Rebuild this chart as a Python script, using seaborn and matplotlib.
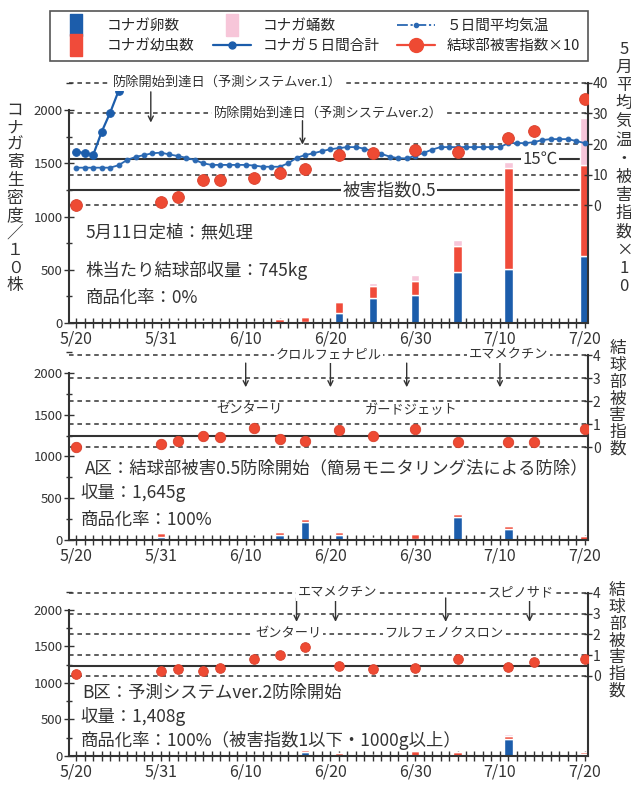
import seaborn as sns
import matplotlib.pyplot as plt
from matplotlib.lines import Line2D
from matplotlib.ticker import MultipleLocator
from matplotlib.transforms import blended_transform_factory

sns.set_theme(style='white')
plt.rcParams['font.family'] = ['Noto Sans CJK JP', 'DejaVu Sans']
plt.rcParams['axes.unicode_minus'] = False

# x axis: day index from 5/20, labels every 10 points
date_pos = [0, 10, 20, 30, 40, 50, 60]
date_labels = ['5/20', '5/31', '6/10', '6/20', '6/30', '7/10', '7/20']
survey_pos = [0, 10, 12, 15, 17, 21, 24, 27, 31, 35, 40, 45, 51, 54, 60]

# top panel: untreated
top_eggs = [0, 0, 0, 0, 0, 0, 0, 5, 90, 230, 265, 475, 505, 0, 630]
top_larvae = [0, 20, 20, 20, 10, 10, 40, 55, 110, 120, 125, 250, 950, 0, 855]
top_pupae = [0, 0, 0, 0, 0, 0, 0, 0, 0, 30, 60, 55, 55, 0, 440]
top_damage10 = [0.1, 1.1, 2.7, 8.3, 8.3, 8.9, 10.6, 11.9, 16.4, 17.1, 18.0, 17.4, 22.0, 24.2, 34.7]
temp_days = list(range(61))
temp_5day = [12.3, 12.3, 12.3, 12.3, 12.3, 13.1, 14.8, 15.8, 16.4, 17.0,
             17.2, 16.6, 16.1, 15.5, 14.8, 13.7, 13.2, 13.2, 13.2, 13.2,
             13.2, 13.0, 12.6, 12.6, 12.6, 13.7, 15.5, 16.4, 17.0, 17.7,
             18.3, 18.7, 19.0, 19.0, 18.5, 17.6, 16.8, 15.9, 15.4, 15.3,
             16.2, 17.1, 18.2, 19.0, 19.0, 19.0, 19.0, 19.0, 19.0, 19.0,
             19.0, 20.3, 20.3, 20.3, 20.6, 21.3, 21.6, 21.6, 21.6, 21.0, 20.3]
total_days = [0, 1, 2, 3, 4, 5]
total_5day = [1610, 1595, 1578, 1795, 1975, 2180]

# middle panel: A区
a_eggs = [0, 40, 0, 0, 0, 0, 60, 220, 60, 0, 10, 270, 130, 0, 0]
a_larvae = [0, 40, 5, 10, 5, 20, 40, 30, 40, 20, 60, 40, 40, 0, 50]
a_pupae = [0, 20, 0, 0, 0, 0, 10, 10, 10, 0, 0, 10, 10, 0, 0]
a_damage = [0.0, 0.13, 0.26, 0.49, 0.43, 0.83, 0.35, 0.26, 0.74, 0.49, 0.78, 0.23, 0.23, 0.23, 0.78]

# bottom panel: B区
b_eggs = [0, 0, 0, 0, 0, 0, 0, 60, 0, 0, 0, 0, 230, 0, 30]
b_larvae = [0, 0, 15, 0, 0, 15, 15, 20, 45, 15, 70, 60, 50, 0, 20]
b_pupae = [0, 0, 0, 0, 0, 0, 0, 0, 0, 0, 0, 0, 20, 0, 10]
b_damage = [0.1, 0.24, 0.32, 0.24, 0.4, 0.8, 1.0, 1.38, 0.48, 0.32, 0.4, 0.8, 0.42, 0.69, 0.8]

BLUE = '#1c5dab'
RED = '#f04b3a'
PINK = '#f7c6d9'
DOT = '#ee4a33'
INK = '#333333'

fig = plt.figure(figsize=(6.31, 7.87), dpi=100)


def panel(rect, eggs, larvae, pupae, left_top, right_lim, right_top, right_ticks,
          dashed, solid):
    ax = fig.add_axes(rect)
    ax2 = ax.twinx()
    # stacked bars
    b1 = [e + l for e, l in zip(eggs, larvae)]
    ax.bar(survey_pos, eggs, width=1.0, color=BLUE, zorder=2)
    ax.bar(survey_pos, larvae, bottom=eggs, width=1.0, color=RED, zorder=2)
    ax.bar(survey_pos, pupae, bottom=b1, width=1.0, color=PINK, zorder=2)
    ax.set_xlim(-0.85, 60.4)
    ax.set_ylim(0, left_top)
    ax2.set_ylim(*right_lim)
    # reference lines in right-axis units, drawn under the bars
    tr = blended_transform_factory(ax.transAxes, ax2.transData)
    for v in dashed:
        ax.plot([0, 1], [v, v], transform=tr, color=INK, lw=1.1,
                ls=(0, (3, 2.5)), zorder=1)
    for v in solid:
        ax.plot([0, 1], [v, v], transform=tr, color=INK, lw=1.5, zorder=1)
    # axes styling
    ax.set_xticks(date_pos, date_labels)
    ax.xaxis.set_minor_locator(MultipleLocator(1))
    ax.yaxis.set_minor_locator(MultipleLocator(250))
    ax.set_yticks([0, 500, 1000, 1500, 2000])
    ax.tick_params(axis='x', which='both', direction='inout', length=7, width=1,
                   colors=INK, labelsize=11.5, pad=2, bottom=True)
    ax.tick_params(axis='y', which='major', direction='inout', length=7, width=1,
                   colors=INK, labelsize=9.5, pad=1, left=True)
    ax.tick_params(axis='y', which='minor', direction='inout', length=4, width=1,
                   colors=INK, left=True)
    ax2.set_yticks(right_ticks)
    ax2.tick_params(axis='y', direction='inout', length=6, width=1, colors=INK,
                    labelsize=10, pad=0.5, right=True)
    for s in ['top', 'right']:
        ax.spines[s].set_visible(False)
    for s in ['top', 'left', 'bottom']:
        ax2.spines[s].set_visible(False)
    ax.spines['left'].set_bounds(0, 2000)
    ax2.spines['right'].set_bounds(right_lim[0], right_top)
    for sp in [ax.spines['left'], ax.spines['bottom'], ax2.spines['right']]:
        sp.set_color(INK)
        sp.set_linewidth(1.5)
    ax.grid(False)
    ax2.grid(False)
    return ax, ax2


def dots(ax2, values, msize):
    sns.scatterplot(x=survey_pos, y=values, ax=ax2, color=DOT, s=msize ** 2,
                    edgecolor='#d8402c', linewidth=0.6, zorder=5, legend=False)


def label(ax2, x, y, s, size=9.5, ha='center'):
    ax2.text(x, y, s, ha=ha, va='center', fontsize=size, color=INK, zorder=6,
             bbox=dict(facecolor='white', edgecolor='none', pad=1.0))


def arrow(ax2, x, y0, y1):
    ax2.annotate('', xy=(x, y1), xytext=(x, y0),
                 arrowprops=dict(arrowstyle='->', color=INK, lw=1.0,
                                 mutation_scale=9, shrinkA=0, shrinkB=0),
                 zorder=6)


# ---- top panel
ax, ax2 = panel([0.1094, 0.5896, 0.8225, 0.3087], top_eggs, top_larvae, top_pupae,
                2282, (-38.3, 40.85), 40, [0, 10, 20, 30, 40],
                [0, 10, 20, 30, 40], [5, 15])
sns.lineplot(x=total_days, y=total_5day, ax=ax, color=BLUE, lw=1.6, marker='o',
             markersize=5.5, markeredgecolor=BLUE, zorder=4)
sns.lineplot(x=temp_days, y=temp_5day, ax=ax2, color='#2a68b2', lw=1.3,
             marker='o', markersize=3.4, markeredgecolor='#2a68b2', zorder=4)
dots(ax2, top_damage10, 8.5)
ax.set_xlabel('')
ax.set_ylabel('')
ax2.set_xlabel('')
ax2.set_ylabel('')
label(ax2, 4.3, 40, '防除開始到達日（予測システムver.1）', ha='left')
label(ax2, 16.2, 30, '防除開始到達日（予測システムver.2）', ha='left')
arrow(ax2, 8.8, 37.0, 27.0)
arrow(ax2, 26.7, 27.6, 19.8)
label(ax2, 54.7, 15, '15℃', size=12)
label(ax2, 36.9, 5, '被害指数0.5', size=12.5)
ax.text(1.1, 853, '5月11日定植：無処理', fontsize=12.5, va='center', color=INK)
ax.text(1.1, 496, '株当たり結球部収量：745kg', fontsize=12.5, va='center', color=INK)
ax.text(1.1, 233, '商品化率：0%', fontsize=12.5, va='center', color=INK)

# ---- middle panel
ax, ax2 = panel([0.1094, 0.3139, 0.8225, 0.2414], a_eggs, a_larvae, a_pupae,
                2275, (-4.04, 4.22), 4, [0, 1, 2, 3, 4],
                [0, 1, 2, 3, 4], [0.5])
dots(ax2, a_damage, 7.5)
for x in [20, 30, 39, 50]:
    arrow(ax2, x, 3.65, 2.6)
label(ax2, 29.8, 4, 'クロルフェナピル')
label(ax2, 51.0, 4, 'エマメクチン')
label(ax2, 20.5, 1.6, 'ゼンターリ')
label(ax2, 39.5, 1.6, 'ガードジェット')
ax.text(1.0, 862, 'A区：結球部被害0.5防除開始（簡易モニタリング法による防除）',
        fontsize=12.5, va='center', color=INK)
ax.text(0.5, 563, '収量：1,645g', fontsize=12.5, va='center', color=INK)
ax.text(0.5, 240, '商品化率：100%', fontsize=12.5, va='center', color=INK)

# ---- bottom panel
ax, ax2 = panel([0.1094, 0.0394, 0.8225, 0.2135], b_eggs, b_larvae, b_pupae,
                2301, (-3.85, 4.23), 4, [0, 1, 2, 3, 4],
                [0, 1, 2, 3, 4], [0.5])
dots(ax2, b_damage, 7.0)
for x in [26, 30.6, 43.6, 53.5]:
    arrow(ax2, x, 3.75, 2.6)
label(ax2, 30.8, 4, 'エマメクチン')
label(ax2, 52.5, 4, 'スピノサド')
label(ax2, 25.0, 2, 'ゼンターリ')
label(ax2, 43.4, 2, 'フルフェノクスロン')
ax.text(0.7, 863, 'B区：予測システムver.2防除開始', fontsize=12.5, va='center', color=INK)
ax.text(0.5, 534, '収量：1,408g', fontsize=12.5, va='center', color=INK)
ax.text(0.5, 219, '商品化率：100%（被害指数1以下・1000g以上）', fontsize=12.5,
        va='center', color=INK)

# ---- vertical axis titles
fig.text(0.024, 1 - 198 / 787, '\n'.join('コナガ寄生密度／１０株'), ha='center',
         va='center', fontsize=12, linespacing=1.04, color=INK)
fig.text(0.989, 1 - 168 / 787, '\n'.join('5月平均気温・被害指数×10'), ha='center',
         va='center', fontsize=12, linespacing=1.1, color=INK)
fig.text(0.979, 1 - 399 / 787, '\n'.join('結球部被害指数'), ha='center',
         va='center', fontsize=12, linespacing=0.98, color=INK)
fig.text(0.978, 1 - 641 / 787, '\n'.join('結球部被害指数'), ha='center',
         va='center', fontsize=12, linespacing=0.98, color=INK)

# ---- legend
tall = [(-0.25, -0.5), (0.25, -0.5), (0.25, 0.5), (-0.25, 0.5), (-0.25, -0.5)]
handles = [
    Line2D([], [], ls='none', marker=tall, ms=16, mfc=BLUE, mec=BLUE),
    Line2D([], [], ls='none', marker=tall, ms=16, mfc=RED, mec=RED),
    Line2D([], [], ls='none', marker=tall, ms=16, mfc=PINK, mec=PINK),
    Line2D([], [], color=BLUE, lw=1.6, marker='o', ms=5),
    Line2D([], [], color='#2a68b2', lw=1.3, ls=(0, (6, 1.5, 1.2, 1.5)), marker='o', ms=3),
    Line2D([], [], color=RED, lw=1.6, marker='o', ms=10, mfc=DOT, mec=DOT),
]
names = ['コナガ卵数', 'コナガ幼虫数', 'コナガ蛹数', 'コナガ５日間合計',
         '５日間平均気温', '結球部被害指数×10']
leg = fig.legend(handles, names, loc='center', ncol=3, mode='expand',
                 bbox_to_anchor=(0.068, 0.920, 0.875, 0.0686), fontsize=10.5,
                 handlelength=2.6, frameon=True, fancybox=False, framealpha=1,
                 edgecolor='#555555', borderpad=0.5, labelspacing=0.45)
leg.get_frame().set_linewidth(1.2)

plt.savefig('out.png', dpi=100)
